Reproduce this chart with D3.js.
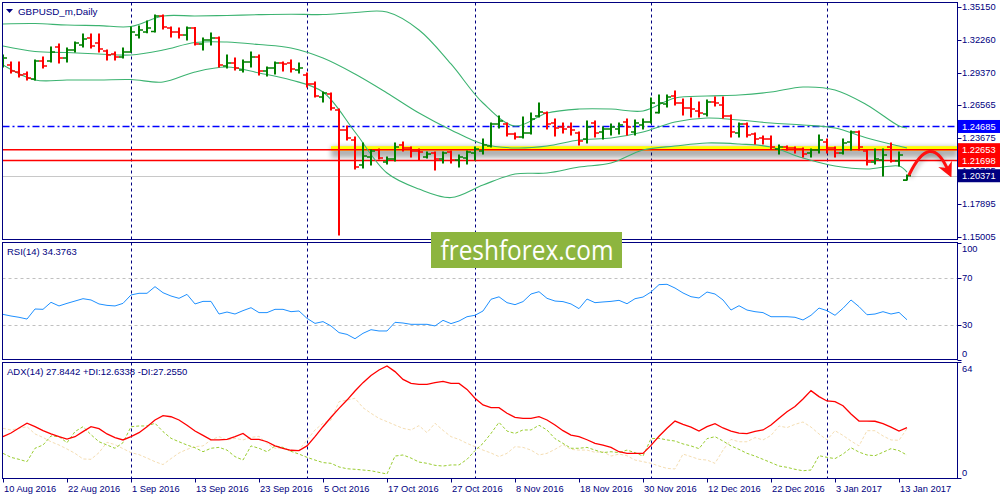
<!DOCTYPE html>
<html>
<head>
<meta charset="UTF-8">
<title>GBPUSD_m, Daily</title>
<style>
  body { margin: 0; background: #fff; }
  svg { display: block; font-family: "Liberation Sans", Arial, sans-serif; }
</style>
</head>
<body>
<svg></svg>
<script src="https://d3js.org/d3.v7.min.js"></script>
<script>

// ---- data (daily bars from 10 Aug 2016) ----
const opens = [1.3007,1.3007,1.2946,1.2928,1.2884,1.3042,1.3042,1.3165,1.3068,1.3138,
  1.3182,1.3243,1.3200,1.3130,1.3103,1.3077,1.3121,1.3270,1.3296,1.3300,
  1.3436,1.3331,1.3296,1.3270,1.3331,1.3191,1.3226,1.3243,1.2998,1.3024,
  1.2963,1.3033,1.3077,1.2954,1.2981,1.3024,1.3024,1.2963,1.2919,1.2840,
  1.2727,1.2753,1.2613,1.2438,1.2350,1.2131,1.2201,1.2262,1.2157,1.2184,
  1.2306,1.2280,1.2254,1.2201,1.2236,1.2184,1.2245,1.2175,1.2192,1.2236,
  1.2254,1.2297,1.2490,1.2490,1.2402,1.2376,1.2411,1.2560,1.2586,1.2499,
  1.2464,1.2464,1.2411,1.2359,1.2499,1.2420,1.2446,1.2446,1.2508,1.2420,
  1.2481,1.2508,1.2590,1.2665,1.2735,1.2674,1.2630,1.2604,1.2578,1.2683,
  1.2657,1.2560,1.2411,1.2490,1.2402,1.2367,1.2359,1.2271,1.2289,1.2280,
  1.2271,1.2236,1.2262,1.2332,1.2280,1.2236,1.2332,1.2420,1.2254,1.2157,
  1.2175,1.2289,1.2166,1.1999];
const highs = [1.3095,1.3033,1.3033,1.2946,1.3051,1.3077,1.3165,1.3191,1.3156,1.3208,
  1.3279,1.3279,1.3279,1.3138,1.3121,1.3156,1.3340,1.3349,1.3392,1.3445,
  1.3445,1.3340,1.3331,1.3340,1.3335,1.3243,1.3287,1.3252,1.3095,1.3068,
  1.3051,1.3121,1.3095,1.2989,1.3033,1.3033,1.3051,1.3024,1.2937,1.2858,
  1.2770,1.2762,1.2622,1.2473,1.2376,1.2324,1.2262,1.2271,1.2201,1.2324,
  1.2332,1.2289,1.2271,1.2245,1.2245,1.2245,1.2254,1.2219,1.2254,1.2289,
  1.2359,1.2499,1.2560,1.2499,1.2411,1.2551,1.2586,1.2674,1.2595,1.2534,
  1.2499,1.2499,1.2420,1.2516,1.2516,1.2464,1.2490,1.2499,1.2534,1.2525,
  1.2534,1.2718,1.2744,1.2744,1.2779,1.2709,1.2718,1.2683,1.2700,1.2727,
  1.2727,1.2569,1.2499,1.2499,1.2411,1.2385,1.2385,1.2306,1.2297,1.2289,
  1.2280,1.2271,1.2394,1.2359,1.2289,1.2359,1.2429,1.2429,1.2262,1.2271,
  1.2271,1.2324,1.2245,1.2043];
const lows = [1.2989,1.2937,1.2902,1.2876,1.2876,1.2981,1.3033,1.3024,1.3033,1.3121,
  1.3165,1.3156,1.3121,1.3051,1.3051,1.3068,1.3121,1.3243,1.3290,1.3296,
  1.3322,1.3252,1.3243,1.3226,1.3182,1.3138,1.3182,1.2989,1.2981,1.2963,
  1.2946,1.2989,1.2919,1.2911,1.2928,1.2954,1.2946,1.2937,1.2814,1.2727,
  1.2683,1.2613,1.1518,1.2350,1.2096,1.2105,1.2131,1.2184,1.2140,1.2166,
  1.2254,1.2201,1.2175,1.2192,1.2087,1.2148,1.2148,1.2113,1.2140,1.2175,
  1.2227,1.2289,1.2455,1.2385,1.2359,1.2367,1.2402,1.2551,1.2446,1.2385,
  1.2411,1.2394,1.2306,1.2324,1.2376,1.2359,1.2394,1.2402,1.2394,1.2394,
  1.2446,1.2499,1.2586,1.2639,1.2657,1.2569,1.2551,1.2551,1.2560,1.2648,
  1.2543,1.2376,1.2376,1.2376,1.2315,1.2315,1.2271,1.2227,1.2262,1.2236,
  1.2201,1.2201,1.2236,1.2236,1.2201,1.2227,1.2262,1.2262,1.2131,1.2140,
  1.2035,1.2157,1.2122,1.1999];
const closes = [1.3068,1.2954,1.2919,1.2893,1.3042,1.2998,1.3121,1.3068,1.3138,1.3200,
  1.3235,1.3173,1.3147,1.3095,1.3077,1.3121,1.3296,1.3314,1.3331,1.3436,
  1.3340,1.3296,1.3270,1.3331,1.3191,1.3226,1.3243,1.3007,1.3024,1.2981,
  1.3033,1.3077,1.2954,1.2981,1.3024,1.3016,1.2972,1.2981,1.2840,1.2735,
  1.2762,1.2630,1.2438,1.2367,1.2113,1.2210,1.2254,1.2192,1.2184,1.2289,
  1.2280,1.2254,1.2245,1.2227,1.2184,1.2236,1.2175,1.2201,1.2245,1.2271,
  1.2306,1.2490,1.2516,1.2402,1.2376,1.2411,1.2534,1.2595,1.2490,1.2455,
  1.2446,1.2438,1.2341,1.2464,1.2411,1.2446,1.2464,1.2481,1.2464,1.2499,
  1.2508,1.2674,1.2674,1.2727,1.2674,1.2630,1.2622,1.2586,1.2683,1.2674,
  1.2560,1.2420,1.2490,1.2394,1.2359,1.2359,1.2289,1.2289,1.2280,1.2271,
  1.2227,1.2262,1.2350,1.2280,1.2236,1.2324,1.2420,1.2289,1.2157,1.2184,
  1.2219,1.2166,1.2219,1.2037];

// Bollinger bands, read every 4th bar
const bbBars   = [0,4,8,12,16,20,24,28,32,36,40,44,48,52,56,60,64,68,72,76,80,84,88,92,96,100,104,108,112,113];
const bbUpper  = [1.3366,1.3370,1.3357,1.3352,1.3344,1.3436,1.3436,1.3441,1.3448,1.3452,1.3449,1.3467,1.3471,1.3314,1.3016,
  1.2674,1.2473,1.2586,1.2621,1.2621,1.2604,1.2718,1.2735,1.2744,1.2770,1.2814,1.2788,1.2657,1.2473,1.2455];
const bbMiddle = [1.3173,1.3125,1.3116,1.3103,1.3095,1.3138,1.3204,1.3208,1.3186,1.3156,1.3068,1.2928,1.2762,1.2586,1.2438,
  1.2315,1.2280,1.2297,1.2350,1.2367,1.2420,1.2508,1.2543,1.2525,1.2499,1.2481,1.2455,1.2367,1.2297,1.2280];
const bbLower  = [1.3007,1.2876,1.2876,1.2876,1.2880,1.2858,1.2946,1.2989,1.2937,1.2876,1.2770,1.2420,1.2061,1.1921,1.1846,
  1.1956,1.2052,1.2061,1.2113,1.2148,1.2262,1.2297,1.2324,1.2315,1.2289,1.2192,1.2122,1.2096,1.2122,1.2069];

const rsi = [39.0,37.6,36.5,35.0,43.6,43.3,49.3,46.2,48.4,50.4,
  52.4,51.3,47.9,46.7,46.2,48.4,55.6,57.0,57.0,62.7,
  57.5,54.7,52.7,56.1,47.9,50.1,50.1,39.3,41.0,39.3,
  42.2,44.7,40.5,40.5,43.3,43.3,41.3,41.9,35.6,31.3,
  32.8,29.1,23.4,21.9,18.2,22.8,25.9,24.8,24.8,32.2,
  31.6,30.5,30.5,30.5,29.1,33.9,31.1,33.3,37.0,38.2,
  41.9,51.9,54.0,49.0,47.3,49.9,56.4,58.4,52.7,50.4,
  49.9,47.9,43.9,52.1,49.0,49.6,50.1,51.0,48.1,52.4,
  53.8,58.1,64.4,64.7,61.5,57.3,54.1,53.0,58.1,56.4,
  51.3,42.7,46.4,42.7,41.3,40.5,37.0,37.0,37.0,36.5,
  34.2,38.2,44.4,42.2,38.2,44.2,51.3,45.6,38.7,39.3,
  41.3,39.3,40.7,34.38];

const adx = [22.8,24.8,27.6,30.2,28.3,26.1,24.3,22.8,21.5,22.8,
  25.6,28.3,27.2,24.3,22.3,21.0,22.8,25.0,28.3,32.0,
  34.4,33.8,32.0,29.1,25.9,23.5,21.0,21.0,21.3,22.8,
  24.6,21.3,21.3,20.0,17.7,16.4,15.3,15.1,17.7,22.8,
  28.3,33.5,38.4,43.0,48.0,52.6,56.6,59.6,61.8,58.7,
  54.4,52.2,51.7,51.7,52.6,53.3,52.2,52.2,48.9,44.0,
  40.3,38.8,38.8,35.7,33.5,32.9,32.9,33.8,32.0,29.2,
  26.1,23.7,22.8,21.1,19.1,18.2,16.9,14.5,13.6,13.6,
  13.6,18.0,23.0,27.4,31.4,29.6,28.1,25.9,28.3,30.0,
  27.6,25.9,24.8,24.5,25.7,26.5,29.2,32.9,36.6,39.4,
  43.6,48.2,44.9,42.5,42.1,39.9,35.3,31.4,31.4,31.3,
  30.0,28.1,25.9,27.84];
const plusDI = [13.6,11.4,10.3,9.0,16.4,18.2,23.2,22.8,19.5,25.6,
  28.3,23.9,20.0,18.2,16.4,19.5,28.3,28.7,28.7,30.2,
  25.6,21.9,20.0,18.2,16.7,14.5,16.4,16.9,15.4,11.8,
  9.9,17.7,16.4,14.5,17.7,16.9,14.7,13.2,11.4,9.9,
  8.5,8.1,6.1,5.1,4.8,4.4,4.0,3.1,2.2,12.1,
  12.7,11.0,8.8,8.1,7.0,6.6,7.2,7.2,10.3,15.1,
  19.1,24.6,30.7,25.9,24.6,26.5,26.5,29.1,26.5,21.7,
  19.1,16.4,16.4,16.9,15.4,14.0,14.5,14.0,15.4,14.0,
  12.1,21.7,21.9,21.0,20.4,18.8,17.7,16.2,21.7,22.8,
  20.4,17.7,15.8,13.6,12.1,10.3,8.5,6.6,5.9,4.8,
  4.0,4.4,12.3,11.4,10.7,13.2,16.7,14.3,12.7,12.3,
  14.2,16.2,15.1,12.63];
const minusDI = [27.4,26.5,27.4,28.3,24.3,22.4,20.0,18.2,16.0,13.6,
  10.5,10.3,14.0,19.7,18.4,16.2,14.0,12.9,11.0,9.0,
  7.4,10.7,13.8,15.8,17.3,17.7,21.0,22.8,21.0,21.9,
  21.0,22.4,23.0,19.1,16.4,16.4,14.7,15.3,21.0,26.5,
  30.2,32.0,42.1,43.0,44.0,38.8,35.7,32.9,31.1,29.2,
  27.4,26.5,28.9,25.0,30.2,26.3,22.8,21.3,19.1,17.3,
  15.4,13.8,11.8,13.6,17.3,16.9,15.4,12.7,13.6,15.8,
  18.4,15.8,15.4,15.4,14.2,14.5,12.1,13.2,12.3,9.9,
  9.0,8.1,6.6,5.3,5.0,13.2,11.8,10.3,9.9,8.1,
  15.4,21.3,20.0,20.0,22.3,21.0,23.5,28.7,27.8,29.6,
  30.9,28.1,24.3,21.0,26.1,23.5,20.4,17.7,26.1,26.1,
  23.2,21.0,20.8,27.26];

const priceTicks = [1.35150, 1.32260, 1.29370, 1.26565, 1.23675, 1.20785, 1.17895, 1.15005];
const dateLabels = ["10 Aug 2016","22 Aug 2016","1 Sep 2016","13 Sep 2016","23 Sep 2016","5 Oct 2016",
  "17 Oct 2016","27 Oct 2016","8 Nov 2016","18 Nov 2016","30 Nov 2016","12 Dec 2016",
  "22 Dec 2016","3 Jan 2017","13 Jan 2017"];
const rsiTicks = [100, 70, 30, 0];
const rsiLevels = [70, 30];
const adxTicks = [64, 0];
const blueLevel = 1.24685;
const redLevels = [1.22653, 1.21698];
const bid = 1.20371;
const supportStart = 41;   // bar where the yellow zone starts

// trading days (weekdays) so month separators can be found
const days = d3.utcDay.range(new Date(Date.UTC(2016, 7, 10)), new Date(Date.UTC(2017, 0, 17)))
  .filter(d => d.getUTCDay() > 0 && d.getUTCDay() < 6);
const monthStarts = days.map((d, i) => i).filter(i => i > 0 && days[i].getUTCMonth() != days[i - 1].getUTCMonth());

// ---- layout ----
let width = 1000, height = 500;
const left = 2.5, right = 957.5;
const main = {top: 2.5, bottom: 239.5};
const rsiP = {top: 242.5, bottom: 359.5};
const adxP = {top: 362.5, bottom: 478.5};
const navy = "#000080";

let svg = d3.select("svg").attr("width", width).attr("height", height);

let x = d3.scaleLinear().domain([0, 113]).range([3, 907]);
let y = d3.scaleLinear().domain([1.15005, 1.35150]).range([237, 7]);
let yRsi = d3.scaleLinear().domain([0, 100]).range([360, 243]);
let yAdx = d3.scaleLinear().domain([0, 64]).range([478, 362]);

let defs = svg.append("defs");
defs.append("clipPath").attr("id", "clipMain").append("rect")
  .attr("x", left).attr("y", main.top).attr("width", right - left).attr("height", main.bottom - main.top);
defs.append("filter").attr("id", "blur").attr("x", "-10%").attr("y", "-200%").attr("width", "120%").attr("height", "500%")
  .append("feGaussianBlur").attr("stdDeviation", 2.5);
defs.append("marker").attr("id", "arrowhead")
  .attr("viewBox", "0 -5 10 10").attr("refX", 3).attr("refY", 0)
  .attr("markerWidth", 5).attr("markerHeight", 5).attr("orient", "auto")
  .append("path").attr("d", "M 0,-5 L 10,0 L 0,5 L 3,0 Z").attr("fill", "#ff1010");

// separators for each month
svg.append("g").selectAll("line").data(monthStarts).join("line")
  .attr("x1", d => x(d) + 0.5).attr("x2", d => x(d) + 0.5)
  .attr("y1", main.top).attr("y2", adxP.bottom)
  .attr("stroke", navy).attr("stroke-dasharray", "3,3");

// ---- main chart ----
let gMain = svg.append("g").attr("clip-path", "url(#clipMain)");

gMain.append("line").attr("x1", left).attr("x2", right)
  .attr("y1", Math.round(y(bid)) + 0.5).attr("y2", Math.round(y(bid)) + 0.5)
  .attr("stroke", "#c8c8c8");

gMain.append("line").attr("x1", left).attr("x2", right)
  .attr("y1", Math.round(y(blueLevel)) + 0.5).attr("y2", Math.round(y(blueLevel)) + 0.5)
  .attr("stroke", "#0000ff").attr("stroke-width", 1.3).attr("stroke-dasharray", "7,3,2,3");

// yellow zone with its shadow
gMain.append("rect").attr("x", x(supportStart)).attr("width", right - x(supportStart))
  .attr("y", y(redLevels[0]) - 3).attr("height", 11)
  .attr("fill", "#000").attr("opacity", 0.3).attr("filter", "url(#blur)");
gMain.append("rect").attr("x", x(supportStart)).attr("width", right - x(supportStart))
  .attr("y", y(redLevels[0]) - 3.5).attr("height", 4.5).attr("fill", "#ffff00");

gMain.append("g").selectAll("line").data(redLevels).join("line")
  .attr("x1", left).attr("x2", right)
  .attr("y1", d => y(d)).attr("y2", d => y(d))
  .attr("stroke", "#ff0000").attr("stroke-width", 1.5);

// bollinger bands
let bandLine = vals => d3.line().x((d, k) => x(bbBars[k])).y(d => y(d)).curve(d3.curveCatmullRom)(vals);
gMain.append("g").selectAll("path").data([bbUpper, bbMiddle, bbLower]).join("path")
  .attr("d", bandLine).attr("fill", "none").attr("stroke", "#3cb371").attr("stroke-width", 1.1);

// bars
let bars = closes.map((c, i) => ({i: i, o: opens[i], h: highs[i], l: lows[i], c: c}));
let bar = gMain.append("g").selectAll("g").data(bars).join("g")
  .attr("stroke", d => d.c >= d.o ? "#008000" : "#ff0000");
bar.append("line").attr("stroke-width", 2)
  .attr("x1", d => x(d.i)).attr("x2", d => x(d.i))
  .attr("y1", d => y(d.h) - 0.5).attr("y2", d => y(d.l) + 0.5);
bar.append("line").attr("stroke-width", 1.6)
  .attr("x1", d => x(d.i) - 4).attr("x2", d => x(d.i))
  .attr("y1", d => y(d.o)).attr("y2", d => y(d.o));
bar.append("line").attr("stroke-width", 1.6)
  .attr("x1", d => x(d.i)).attr("x2", d => x(d.i) + 4)
  .attr("y1", d => y(d.c)).attr("y2", d => y(d.c));

// hand drawn forecast arrow
let arrow = d3.path();
arrow.moveTo(x(113.3), y(1.2050));
arrow.quadraticCurveTo(x(115.9), y(1.2420), x(118.0), y(1.2105));
gMain.append("path").attr("d", arrow.toString()).attr("transform", "translate(1,3)")
  .attr("fill", "none").attr("stroke", "#000").attr("stroke-width", 3).attr("opacity", 0.3).attr("filter", "url(#blur)");
gMain.append("path").attr("d", arrow.toString())
  .attr("fill", "none").attr("stroke", "#ff1010").attr("stroke-width", 3)
  .attr("stroke-linecap", "round").attr("marker-end", "url(#arrowhead)");

// ---- RSI ----
svg.append("g").selectAll("line").data(rsiLevels).join("line")
  .attr("x1", left).attr("x2", right)
  .attr("y1", d => Math.round(yRsi(d)) + 0.5).attr("y2", d => Math.round(yRsi(d)) + 0.5)
  .attr("stroke", "#c0c0c0").attr("stroke-dasharray", "3,3");
svg.append("path").datum(rsi)
  .attr("d", d3.line().x((d, i) => x(i)).y(d => yRsi(d)))
  .attr("fill", "none").attr("stroke", "#1e90ff").attr("stroke-width", 1);

// ---- ADX ----
let adxLine = d3.line().x((d, i) => x(i)).y(d => yAdx(d));
svg.append("path").datum(minusDI).attr("d", adxLine)
  .attr("fill", "none").attr("stroke", "#f5deb3").attr("stroke-width", 1).attr("stroke-dasharray", "3,2");
svg.append("path").datum(plusDI).attr("d", adxLine)
  .attr("fill", "none").attr("stroke", "#9acd32").attr("stroke-width", 1).attr("stroke-dasharray", "3,2");
svg.append("path").datum(adx).attr("d", adxLine)
  .attr("fill", "none").attr("stroke", "#ff0000").attr("stroke-width", 1.3);

// ---- frames ----
[main, rsiP, adxP].forEach(p => {
  svg.append("rect").attr("x", left).attr("y", p.top)
    .attr("width", right - left).attr("height", p.bottom - p.top)
    .attr("fill", "none").attr("stroke", navy);
});

// watermark
svg.append("rect").attr("x", 431).attr("y", 232).attr("width", 191).attr("height", 36).attr("fill", "#8db53f");
svg.append("text").attr("x", 527).attr("y", 260).attr("text-anchor", "middle")
  .attr("font-family", "'Open Sans', sans-serif").attr("font-size", 27)
  .attr("textLength", 173).attr("lengthAdjust", "spacingAndGlyphs")
  .attr("fill", "#fff").text("freshforex.com");

// ---- titles ----
svg.append("path").attr("d", "M6,9 L13,9 L9.5,13 Z").attr("fill", navy);
svg.append("text").attr("x", 18).attr("y", 15).attr("font-size", 9.8).attr("fill", navy).text("GBPUSD_m,Daily");
svg.append("text").attr("x", 7).attr("y", 255).attr("font-size", 9.5).attr("fill", navy)
  .text("RSI(14) 34.3763");
svg.append("text").attr("x", 7).attr("y", 375).attr("font-size", 9.5).attr("fill", navy)
  .text("ADX(14) 27.8442 +DI:12.6338 -DI:27.2550");

// ---- right axis ----
let axisG = svg.append("g").attr("font-size", 9.3).attr("fill", navy);
let tickMarks = [];
priceTicks.forEach(v => tickMarks.push({y: y(v), ly: y(v), t: v.toFixed(5)}));
rsiTicks.forEach(v => tickMarks.push({y: yRsi(v), ly: Math.max(rsiP.top + 6, Math.min(rsiP.bottom - 6, yRsi(v))), t: String(v)}));
adxTicks.forEach(v => tickMarks.push({y: yAdx(v), ly: Math.max(adxP.top + 6, Math.min(adxP.bottom - 6, yAdx(v))), t: String(v)}));
axisG.selectAll("line").data(tickMarks).join("line")
  .attr("x1", right).attr("x2", right + 4)
  .attr("y1", d => Math.round(d.y) + 0.5).attr("y2", d => Math.round(d.y) + 0.5)
  .attr("stroke", navy);
axisG.selectAll("text").data(tickMarks).join("text")
  .attr("x", 962).attr("y", d => d.ly).attr("dy", "0.35em").text(d => d.t);

// colored price labels
let boxes = [
  {v: blueLevel, c: "#0000ff"},
  {v: redLevels[0], c: "#ff0000"},
  {v: redLevels[1], c: "#ff0000"},
  {v: bid, c: navy}
];
let boxG = svg.append("g").selectAll("g").data(boxes).join("g");
boxG.append("rect").attr("x", right + 0.5).attr("y", d => y(d.v) - 6.5)
  .attr("width", 42).attr("height", 13).attr("fill", d => d.c);
boxG.append("text").attr("x", 962).attr("y", d => y(d.v)).attr("dy", "0.35em")
  .attr("font-size", 9.3).attr("fill", "#fff").text(d => d.v.toFixed(5));

// ---- bottom axis ----
let dateTicks = dateLabels.map((t, k) => ({i: k * 8, t: t}));
let dateG = svg.append("g").attr("font-size", 9.3).attr("fill", navy);
dateG.selectAll("line").data(dateTicks).join("line")
  .attr("x1", d => x(d.i) + 0.5).attr("x2", d => x(d.i) + 0.5)
  .attr("y1", adxP.bottom).attr("y2", adxP.bottom + 4).attr("stroke", navy);
dateG.selectAll("text").data(dateTicks).join("text")
  .attr("x", d => x(d.i) + 1).attr("y", 492).text(d => d.t);

</script>
</body>
</html>
